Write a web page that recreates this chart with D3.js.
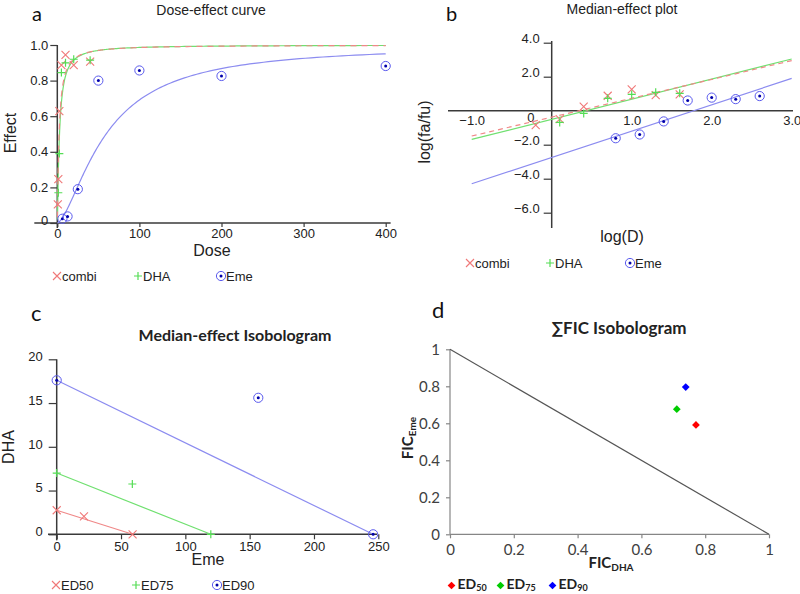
<!DOCTYPE html>
<html><head><meta charset="utf-8">
<script src="https://cdn.jsdelivr.net/npm/d3@7"></script>
<style>body{margin:0;background:#fff} svg{display:block}</style>
</head><body>
<svg id="chart" width="800" height="594"></svg>
<script>
// ---------- Panel a: dose-effect ----------
const doseCombi = [0.625, 1.25, 2.5, 5, 10, 20, 40];
const effCombi  = [0.105, 0.246, 0.628, 0.887, 0.944, 0.887, 0.906];
const doseDHA   = [1.25, 2.5, 5, 10, 20, 40];
const effDHA    = [0.17, 0.39, 0.845, 0.90, 0.92, 0.915];
const doseEme   = [6.25, 12.5, 25, 50, 100, 200, 400];
const effEme    = [0.024, 0.037, 0.19, 0.80, 0.857, 0.826, 0.882];
const doseTicks = [0, 100, 200, 300, 400];
const effectTicks = [0, 0.2, 0.4, 0.6, 0.8, 1.0];
// ---------- Panel b: median-effect ----------
const logDCombi = [-0.2, 0.1, 0.4, 0.7, 1.0, 1.3, 1.6];
const logRCombi = [-0.85, -0.49, 0.24, 0.88, 1.25, 0.92, 0.96];
const logDDHA   = [0.1, 0.4, 0.7, 1.0, 1.3, 1.6];
const logRDHA   = [-0.69, -0.16, 0.73, 0.96, 1.08, 1.02];
const logDEme   = [0.8, 1.1, 1.4, 1.7, 2.0, 2.3, 2.6];
const logREme   = [-1.62, -1.40, -0.63, 0.60, 0.77, 0.68, 0.86];
const fitLogD   = [-1, 3];
const fitCombi  = [-1.49, 2.95];
const fitDHA    = [-1.69, 3.04];
const fitEme    = [-4.3, 1.9];
const logDTicks = [-1, 1, 2, 3];
const logRTicks = [-6, -4, -2, 2, 4];
// ---------- Panel c: median-effect isobologram ----------
const ed50Eme = [0, 21.2, 59];    const ed50DHA = [2.75, 2.05, 0];
const ed75Eme = [0, 58.8, 119.8]; const ed75DHA = [7.0, 5.75, 0];
const ed90Eme = [0, 156.7, 246];  const ed90DHA = [17.6, 15.6, 0];
const emeTicks = [0, 50, 100, 150, 200, 250];
const dhaTicks = [0, 5, 10, 15, 20];
// ---------- Panel d: FIC isobologram ----------
const ficLabels = ["50", "75", "90"];
const ficDHA = [0.771, 0.711, 0.739];
const ficEme = [0.591, 0.676, 0.796];
const ficColors = ["#ff0000", "#00cc00", "#0000ff"];
const additiveDHA = [0, 1];
const additiveEme = [1, 0];
const ficTicks = [0, 0.2, 0.4, 0.6, 0.8, 1];

const RED = "#f07878", GREEN = "#55dd55", BLUE = "#5a5aee", DOT = "#0000aa";
const RLINE = "#f08888", GLINE = "#70e070", BLINE = "#8c8cf0";
const ARIAL = "Liberation Sans, Arial, sans-serif";
const CAL = "Lato, Open Sans, sans-serif";
const AX = "#3a3a3a";

const svg = d3.select("#chart");

function cross(g, x, y, c, s = 4) {
  g.append("path").attr("d", `M${x - s},${y - s}L${x + s},${y + s}M${x - s},${y + s}L${x + s},${y - s}`)
    .attr("stroke", c).attr("stroke-width", 1.1).attr("fill", "none");
}
function plus(g, x, y, c, s = 4) {
  g.append("path").attr("d", `M${x - s},${y}H${x + s}M${x},${y - s}V${y + s}`)
    .attr("stroke", c).attr("stroke-width", 1.2).attr("fill", "none");
}
function ring(g, x, y) {
  g.append("circle").attr("cx", x).attr("cy", y).attr("r", 4.6).attr("fill", "none").attr("stroke", BLUE).attr("stroke-width", 1);
  g.append("circle").attr("cx", x).attr("cy", y).attr("r", 1.5).attr("fill", DOT);
}
function text(g, x, y, s, opts = {}) {
  const t = g.append("text").attr("x", x).attr("y", y).text(s)
    .attr("font-family", opts.font || ARIAL).attr("font-size", opts.size || 13)
    .attr("fill", opts.fill || "#222").attr("text-anchor", opts.anchor || "start");
  if (opts.weight) t.attr("font-weight", opts.weight);
  if (opts.rotate) t.attr("transform", `rotate(-90,${x},${y})`);
  return t;
}
function styleAxis(sel, color, font, size) {
  sel.select(".domain").remove();
  sel.selectAll(".tick line").attr("stroke", color).attr("stroke-width", 1.2);
  sel.selectAll(".tick text").attr("font-family", font).attr("font-size", size).attr("fill", "#222");
}
function legend(g, y, items) {
  items.forEach(([x, kind, label]) => {
    if (kind === "x") cross(g, x, y, RED);
    else if (kind === "+") plus(g, x, y, GREEN);
    else ring(g, x, y);
    text(g, x + 5, y + 5, label, {size: 13});
  });
}
const diamond = d3.symbol().type(d3.symbolSquare).size(30);

// ================= Panel a =================
{
  const g = svg.append("g");
  const x = d3.scaleLinear().domain([0, 400]).range([57.3, 385.7]);
  const y = d3.scaleLinear().domain([0, 1]).range([223, 45]);
  text(g, 32, 21, "a", {font: CAL, size: 20, fill: "#111"});
  text(g, 211, 15, "Dose-effect curve", {size: 14, anchor: "middle"});
  g.append("line").attr("x1", x(-28)).attr("x2", x(406)).attr("y1", y(0)).attr("y2", y(0)).attr("stroke", AX).attr("stroke-width", 1.5);
  g.append("line").attr("x1", x(0)).attr("x2", x(0)).attr("y1", y(1)).attr("y2", y(0) + 5).attr("stroke", AX).attr("stroke-width", 1.5);
  const xa = g.append("g").attr("transform", `translate(0,${y(0)})`)
    .call(d3.axisBottom(x).tickValues(doseTicks).tickSize(4).tickPadding(2).tickFormat(d3.format("d")));
  styleAxis(xa, AX, ARIAL, 13);
  const ya = g.append("g").attr("transform", `translate(${x(0)},0)`)
    .call(d3.axisLeft(y).tickValues(effectTicks).tickSize(7).tickPadding(2).tickFormat(d => d === 0 ? "0" : d3.format(".1f")(d)));
  styleAxis(ya, AX, ARIAL, 13);
  ya.selectAll(".tick text").filter(d => d === 0).attr("dy", "0.1em");
  text(g, 16, 133, "Effect", {size: 16, anchor: "middle", rotate: true});
  text(g, 212, 256, "Dose", {size: 16, anchor: "middle"});
  const mk = (fit) => {
    const m = (fit[1] - fit[0]) / (fitLogD[1] - fitLogD[0]);
    const b = fit[0] - m * fitLogD[0];
    return D => 1 / (1 + Math.pow(10, -(m * Math.log10(D) + b)));
  };
  const doses = d3.range(-1, Math.log10(400) + 1e-9, 0.01).map(v => Math.pow(10, v)).concat([400]);
  const line = d3.line().x(d => x(d[0])).y(d => y(d[1]));
  [[fitEme, BLINE], [fitDHA, GLINE], [fitCombi, RLINE]].forEach(([fit, c], i) => {
    const f = mk(fit);
    g.append("path").datum(doses.map(D => [D, f(D)])).attr("d", line).attr("fill", "none")
      .attr("stroke", c).attr("stroke-width", 1.2).attr("stroke-dasharray", i === 2 ? "6,5" : null);
  });
  doseCombi.forEach((d, i) => cross(g, x(d), y(effCombi[i]), RED));
  doseDHA.forEach((d, i) => plus(g, x(d), y(effDHA[i]), GREEN));
  doseEme.forEach((d, i) => ring(g, x(d), y(effEme[i])));
  legend(g, 276, [[57, "x", "combi"], [138, "+", "DHA"], [221, "o", "Eme"]]);
}

// ================= Panel b =================
{
  const g = svg.append("g");
  const x = d3.scaleLinear().domain([-1, 3]).range([471.7, 791.7]);
  const y = d3.scaleLinear().domain([-6, 4]).range([212.7, 42.7]);
  text(g, 446, 21, "b", {font: CAL, size: 20, fill: "#111"});
  text(g, 622, 14, "Median-effect plot", {size: 14, anchor: "middle"});
  g.append("line").attr("x1", 448).attr("x2", 793).attr("y1", y(0)).attr("y2", y(0)).attr("stroke", AX).attr("stroke-width", 1.5);
  g.append("line").attr("x1", x(0)).attr("x2", x(0)).attr("y1", 41).attr("y2", 228).attr("stroke", AX).attr("stroke-width", 1.5);
  const xa = g.append("g").attr("transform", `translate(0,${y(0)})`)
    .call(d3.axisBottom(x).tickValues(logDTicks).tickSize(0).tickPadding(5).tickFormat(d3.format(".1f")));
  styleAxis(xa, AX, ARIAL, 13);
  text(g, x(-0.26), 122, "0", {size: 13, anchor: "middle"});
  const ya = g.append("g").attr("transform", `translate(${x(0)},0)`)
    .call(d3.axisLeft(y).tickValues(logRTicks).tickSize(8).tickPadding(4).tickFormat(d3.format(".1f")));
  styleAxis(ya, AX, ARIAL, 13);
  ya.selectAll(".tick text").attr("dy", "-0.05em");
  text(g, 430, 132, "log(fa/fu)", {size: 16, anchor: "middle", rotate: true});
  text(g, 622, 242, "log(D)", {size: 16, anchor: "middle"});
  const line = d3.line().x((d, i) => x(fitLogD[i])).y(d => y(d));
  [[fitEme, BLINE, null], [fitDHA, GLINE, null], [fitCombi, RLINE, "5,4"]].forEach(([fit, c, dash]) => {
    g.append("path").datum(fit).attr("d", line).attr("fill", "none").attr("stroke", c).attr("stroke-width", 1.2).attr("stroke-dasharray", dash);
  });
  logDCombi.forEach((d, i) => cross(g, x(d), y(logRCombi[i]), RED));
  logDDHA.forEach((d, i) => plus(g, x(d), y(logRDHA[i]), GREEN));
  logDEme.forEach((d, i) => ring(g, x(d), y(logREme[i])));
  legend(g, 263, [[470, "x", "combi"], [550, "+", "DHA"], [630, "o", "Eme"]]);
}

// ================= Panel c =================
{
  const g = svg.append("g");
  const x = d3.scaleLinear().domain([0, 250]).range([56.7, 378.3]);
  const y = d3.scaleLinear().domain([0, 20]).range([534.3, 359.3]);
  text(g, 31, 321, "c", {font: CAL, size: 22, fill: "#111"});
  text(g, 235, 341, "Median-effect Isobologram", {font: CAL, size: 16, weight: "bold", anchor: "middle"});
  g.append("line").attr("x1", 48).attr("x2", 377).attr("y1", y(0)).attr("y2", y(0)).attr("stroke", AX).attr("stroke-width", 1.5);
  g.append("line").attr("x1", x(0)).attr("x2", x(0)).attr("y1", y(20)).attr("y2", y(0) + 6).attr("stroke", AX).attr("stroke-width", 1.5);
  const xa = g.append("g").attr("transform", `translate(0,${y(0)})`)
    .call(d3.axisBottom(x).tickValues(emeTicks).tickSize(5).tickPadding(2).tickFormat(d3.format("d")));
  styleAxis(xa, AX, ARIAL, 13);
  const ya = g.append("g").attr("transform", `translate(${x(0)},0)`)
    .call(d3.axisLeft(y).tickValues(dhaTicks).tickSize(8).tickPadding(6).tickFormat(d3.format("d")));
  styleAxis(ya, AX, ARIAL, 13);
  ya.selectAll(".tick text").attr("dy", "0.1em");
  text(g, 14, 447, "DHA", {size: 16, anchor: "middle", rotate: true});
  text(g, 208, 565, "Eme", {size: 16, anchor: "middle"});
  const sets = [[ed90Eme, ed90DHA, BLINE, "o"], [ed75Eme, ed75DHA, GLINE, "+"], [ed50Eme, ed50DHA, RLINE, "x"]];
  sets.forEach(([ex, dy, c, k]) => {
    g.append("line").attr("x1", x(ex[0])).attr("y1", y(dy[0])).attr("x2", x(ex[2])).attr("y2", y(dy[2]))
      .attr("stroke", c).attr("stroke-width", 1.2);
    ex.forEach((e, i) => {
      if (k === "x") cross(g, x(e), y(dy[i]), RED);
      else if (k === "+") plus(g, x(e), y(dy[i]), GREEN);
      else ring(g, x(e), y(dy[i]));
    });
  });
  legend(g, 585, [[56, "x", "ED50"], [136, "+", "ED75"], [217, "o", "ED90"]]);
}

// ================= Panel d =================
{
  const g = svg.append("g");
  const x = d3.scaleLinear().domain([0, 1]).range([450, 769]);
  const y = d3.scaleLinear().domain([0, 1]).range([534.3, 349.3]);
  const GR = "#868686";
  text(g, 432, 318, "d", {font: CAL, size: 22, fill: "#111"});
  text(g, 619, 334, "∑FIC Isobologram", {font: CAL, size: 17, weight: "bold", anchor: "middle"});
  g.append("line").attr("x1", x(0)).attr("x2", x(1)).attr("y1", y(0)).attr("y2", y(0)).attr("stroke", GR).attr("stroke-width", 1.2);
  g.append("line").attr("x1", x(0)).attr("x2", x(0)).attr("y1", y(1)).attr("y2", y(0)).attr("stroke", GR).attr("stroke-width", 1.2);
  const xa = g.append("g").attr("transform", `translate(0,${y(0)})`)
    .call(d3.axisBottom(x).tickValues(ficTicks).tickSize(4).tickPadding(6).tickFormat(d => d3.format("")(d)));
  styleAxis(xa, GR, CAL, 15);
  const ya = g.append("g").attr("transform", `translate(${x(0)},0)`)
    .call(d3.axisLeft(y).tickValues(ficTicks).tickSize(4).tickPadding(6).tickFormat(d => d3.format("")(d)));
  styleAxis(ya, GR, CAL, 15);
  xa.selectAll(".tick text").attr("fill", "#404040");
  ya.selectAll(".tick text").attr("fill", "#404040");
  g.append("path").datum(additiveDHA.map((d, i) => [d, additiveEme[i]]))
    .attr("d", d3.line().x(d => x(d[0])).y(d => y(d[1]))).attr("stroke", "#555").attr("stroke-width", 1.2).attr("fill", "none");
  ficDHA.forEach((d, i) => g.append("path").attr("d", diamond).attr("transform", `translate(${x(d)},${y(ficEme[i])}) rotate(45)`).attr("fill", ficColors[i]));
  const xt = text(g, 611, 568, "FIC", {font: CAL, size: 15, weight: "bold", anchor: "middle"});
  xt.append("tspan").attr("font-size", 10).attr("dy", 3).text("DHA");
  const yt = text(g, 413, 438, "FIC", {font: CAL, size: 15, weight: "bold", anchor: "middle", rotate: true});
  yt.append("tspan").attr("font-size", 10).attr("dy", 3).text("Eme");
  const lx = [451.5, 500.5, 552.5];
  ficLabels.forEach((l, i) => {
    g.append("path").attr("d", diamond).attr("transform", `translate(${lx[i]},585.5) rotate(45)`).attr("fill", ficColors[i]);
    const t = text(g, lx[i] + 6, 589, "ED", {font: CAL, size: 14, weight: "bold"});
    t.append("tspan").attr("font-size", 9).attr("dy", 2).text(l);
  });
}
</script>
</body></html>
